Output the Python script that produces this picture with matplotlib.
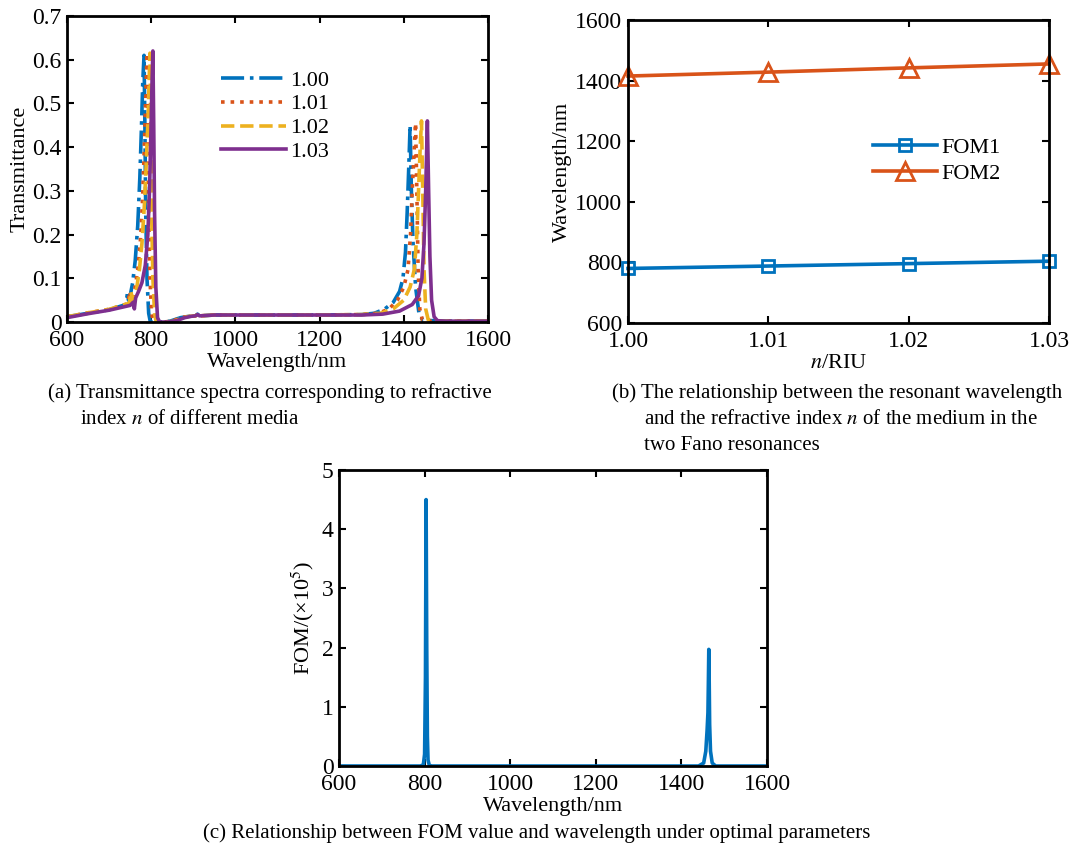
import numpy as np
import matplotlib
matplotlib.use("Agg")
import matplotlib.pyplot as plt

plt.rcParams['font.family'] = ['Liberation Serif', 'DejaVu Serif']
plt.rcParams['mathtext.fontset'] = 'stix'

# ---- (a) transmittance spectra for n = 1.00 ... 1.03
labels_a = ['1.00', '1.01', '1.02', '1.03']

wl_100 = [600, 650, 700, 740, 744, 746, 750, 756, 762, 768,
          773, 777, 780, 783, 785, 787, 790, 794, 798, 820,
          845, 870, 890, 905, 910, 915, 950, 1000, 1100, 1200,
          1300, 1330, 1355, 1375, 1390, 1398, 1404, 1408, 1412, 1415,
          1418, 1422, 1428, 1436, 1445, 1500, 1600]
T_100 = [0.012, 0.02, 0.028, 0.04, 0.07, 0.05, 0.06, 0.09, 0.14, 0.22,
         0.33, 0.45, 0.55, 0.61, 0.45, 0.25, 0.1, 0.02, 0.0, 0.0,
         0.002, 0.01, 0.013, 0.014, 0.018, 0.014, 0.016, 0.016, 0.016, 0.016,
         0.017, 0.02, 0.03, 0.045, 0.07, 0.1, 0.16, 0.25, 0.36, 0.45,
         0.3, 0.18, 0.08, 0.02, 0.004, 0.002, 0.002]

wl_101 = [600, 650, 700, 745, 749, 752, 756, 762, 768, 774,
          779, 783, 786, 788, 790, 792, 794, 797, 801, 805,
          830, 850, 870, 890, 905, 910, 915, 950, 1000, 1100,
          1200, 1300, 1340, 1365, 1385, 1400, 1410, 1416, 1420, 1425,
          1428, 1431, 1434, 1438, 1444, 1452, 1500, 1600]
T_101 = [0.012, 0.021, 0.029, 0.042, 0.07, 0.05, 0.055, 0.08, 0.12, 0.18,
         0.27, 0.38, 0.48, 0.55, 0.615, 0.45, 0.25, 0.1, 0.02, 0.0,
         0.0, 0.002, 0.01, 0.013, 0.014, 0.018, 0.014, 0.016, 0.016, 0.016,
         0.016, 0.017, 0.02, 0.03, 0.05, 0.08, 0.12, 0.2, 0.3, 0.4,
         0.455, 0.3, 0.12, 0.03, 0.005, 0.002, 0.002, 0.002]

wl_102 = [600, 650, 700, 748, 752, 755, 760, 766, 772, 778,
          784, 789, 793, 795, 797, 799, 801, 804, 808, 812,
          835, 855, 875, 890, 905, 910, 915, 950, 1000, 1100,
          1200, 1300, 1345, 1375, 1400, 1415, 1425, 1431, 1435, 1439,
          1442, 1445, 1448, 1452, 1458, 1466, 1500, 1600]
T_102 = [0.012, 0.021, 0.029, 0.043, 0.07, 0.05, 0.055, 0.08, 0.12, 0.18,
         0.27, 0.38, 0.48, 0.55, 0.615, 0.45, 0.25, 0.1, 0.02, 0.0,
         0.0, 0.002, 0.01, 0.013, 0.014, 0.018, 0.014, 0.016, 0.016, 0.016,
         0.016, 0.017, 0.02, 0.03, 0.05, 0.08, 0.12, 0.2, 0.3, 0.4,
         0.46, 0.3, 0.12, 0.03, 0.005, 0.002, 0.002, 0.002]

wl_103 = [600, 650, 700, 750, 757, 760, 763, 770, 778, 786,
          792, 796, 799, 802, 804, 806, 808, 811, 815, 820,
          840, 860, 880, 895, 905, 910, 915, 950, 1000, 1100,
          1200, 1300, 1350, 1390, 1420, 1435, 1443, 1448, 1452, 1456,
          1459, 1462, 1466, 1472, 1480, 1500, 1600]
T_103 = [0.01, 0.019, 0.027, 0.038, 0.045, 0.03, 0.055, 0.07, 0.09, 0.13,
         0.2, 0.3, 0.42, 0.55, 0.62, 0.45, 0.25, 0.08, 0.01, 0.0,
         0.0, 0.003, 0.01, 0.013, 0.014, 0.017, 0.014, 0.016, 0.016, 0.016,
         0.016, 0.016, 0.018, 0.025, 0.04, 0.06, 0.1, 0.18, 0.3, 0.46,
         0.3, 0.15, 0.05, 0.012, 0.003, 0.002, 0.002]

# ---- (b) resonant wavelength vs refractive index
n_idx = [1.00, 1.01, 1.02, 1.03]
fom1_wl = [780, 788, 796, 804]
fom2_wl = [1415, 1428, 1442, 1455]

# ---- (c) FOM vs wavelength
wl_fom = [600, 790, 797, 800, 802, 803.5, 805, 806.5, 808, 811, 817,
          1440, 1452, 1457, 1460, 1462, 1463, 1464, 1465, 1466, 1468, 1472, 1480, 1600]
fom = [0, 0, 0.02, 0.2, 1.5, 4.5, 2.0, 0.5, 0.1, 0.01, 0,
       0, 0.05, 0.25, 0.6, 0.9, 1.4, 1.97, 1.4, 0.7, 0.25, 0.05, 0, 0]

blue = '#0072BD'
red = '#D95319'
yellow = '#EDB120'
purple = '#7E2F8E'

W, H = 1074, 846
fig = plt.figure(figsize=(W / 100, H / 100), dpi=100)


def px_axes(x0, y0, x1, y1):
    # pixel box (left, top, right, bottom) -> figure axes
    return fig.add_axes([x0 / W, 1 - y1 / H, (x1 - x0) / W, (y1 - y0) / H])


def matlab_style(ax):
    for s in ax.spines.values():
        s.set_linewidth(2.0)
    ax.tick_params(direction='in', top=True, right=True, length=5, width=1.5,
                   labelsize=17)
    ax.tick_params(axis='x', pad=6)
    ax.tick_params(axis='y', pad=4)


# (a)
ax1 = px_axes(67, 16, 488, 322)
ax1.plot(wl_100, T_100, '-.', color=blue, lw=2.6, label=labels_a[0])
ax1.plot(wl_101, T_101, ':', color=red, lw=2.6, label=labels_a[1])
ax1.plot(wl_102, T_102, '--', color=yellow, lw=2.6, label=labels_a[2])
ax1.plot(wl_103, T_103, '-', color=purple, lw=2.6, label=labels_a[3])
ax1.set_xlim(600, 1600)
ax1.set_ylim(0, 0.7)
ax1.set_xticks([600, 800, 1000, 1200, 1400, 1600])
ax1.set_yticks([0, 0.1, 0.2, 0.3, 0.4, 0.5, 0.6, 0.7])
ax1.set_yticklabels(['0', '0.1', '0.2', '0.3', '0.4', '0.5', '0.6', '0.7'])
ax1.set_xlabel('Wavelength/nm', fontsize=16, labelpad=1)
ax1.set_ylabel('Transmittance', fontsize=16, labelpad=2)
matlab_style(ax1)
ax1.legend(loc='upper left', bbox_to_anchor=(0.34, 0.86), frameon=False,
           fontsize=16, handlelength=2.9, handletextpad=0.2, labelspacing=0.15,
           borderpad=0)

# (b)
ax2 = px_axes(628, 20, 1049, 323)
ax2.plot(n_idx, fom1_wl, '-s', color=blue, lw=2.6, ms=9, mew=2,
         mfc='none', clip_on=False, label='FOM1')
ax2.plot(n_idx, fom2_wl, '-^', color=red, lw=2.6, ms=13, mew=2,
         mfc='none', clip_on=False, label='FOM2')
ax2.set_xlim(1.00, 1.03)
ax2.set_ylim(600, 1600)
ax2.set_xticks(n_idx)
ax2.set_xticklabels(['1.00', '1.01', '1.02', '1.03'])
ax2.set_yticks([600, 800, 1000, 1200, 1400, 1600])
ax2.set_xlabel('$n$/RIU', fontsize=16, labelpad=1)
ax2.set_ylabel('Wavelength/nm', fontsize=16, labelpad=2)
matlab_style(ax2)
ax2.legend(loc='upper left', bbox_to_anchor=(0.555, 0.65), frameon=False,
           fontsize=16, handlelength=2.9, handletextpad=0.2, labelspacing=0.25,
           borderpad=0)

# (c)
ax3 = px_axes(339, 470, 767, 766)
ax3.plot(wl_fom, fom, '-', color=blue, lw=2.6)
ax3.set_xlim(600, 1600)
ax3.set_ylim(0, 5)
ax3.set_xticks([600, 800, 1000, 1200, 1400, 1600])
ax3.set_yticks([0, 1, 2, 3, 4, 5])
ax3.set_xlabel('Wavelength/nm', fontsize=16, labelpad=1)
ax3.set_ylabel('FOM/(×10$^{5}$)', fontsize=16, labelpad=4)
matlab_style(ax3)

# captions
cap = dict(fontsize=15, va='center', ha='left')
fig.text(48 / W, 1 - 393 / H, '(a) Transmittance spectra corresponding to refractive', **cap)
fig.text(80 / W, 1 - 419 / H, 'index $n$ of different media', **cap)
fig.text(612 / W, 1 - 393 / H, '(b) The relationship between the resonant wavelength', **cap)
fig.text(644 / W, 1 - 419 / H, 'and the refractive index $n$ of the medium in the', **cap)
fig.text(644 / W, 1 - 445 / H, 'two Fano resonances', **cap)
fig.text(537 / W, 1 - 833 / H,
         '(c) Relationship between FOM value and wavelength under optimal parameters',
         fontsize=15, va='center', ha='center')

fig.savefig('out.png', dpi=100)
